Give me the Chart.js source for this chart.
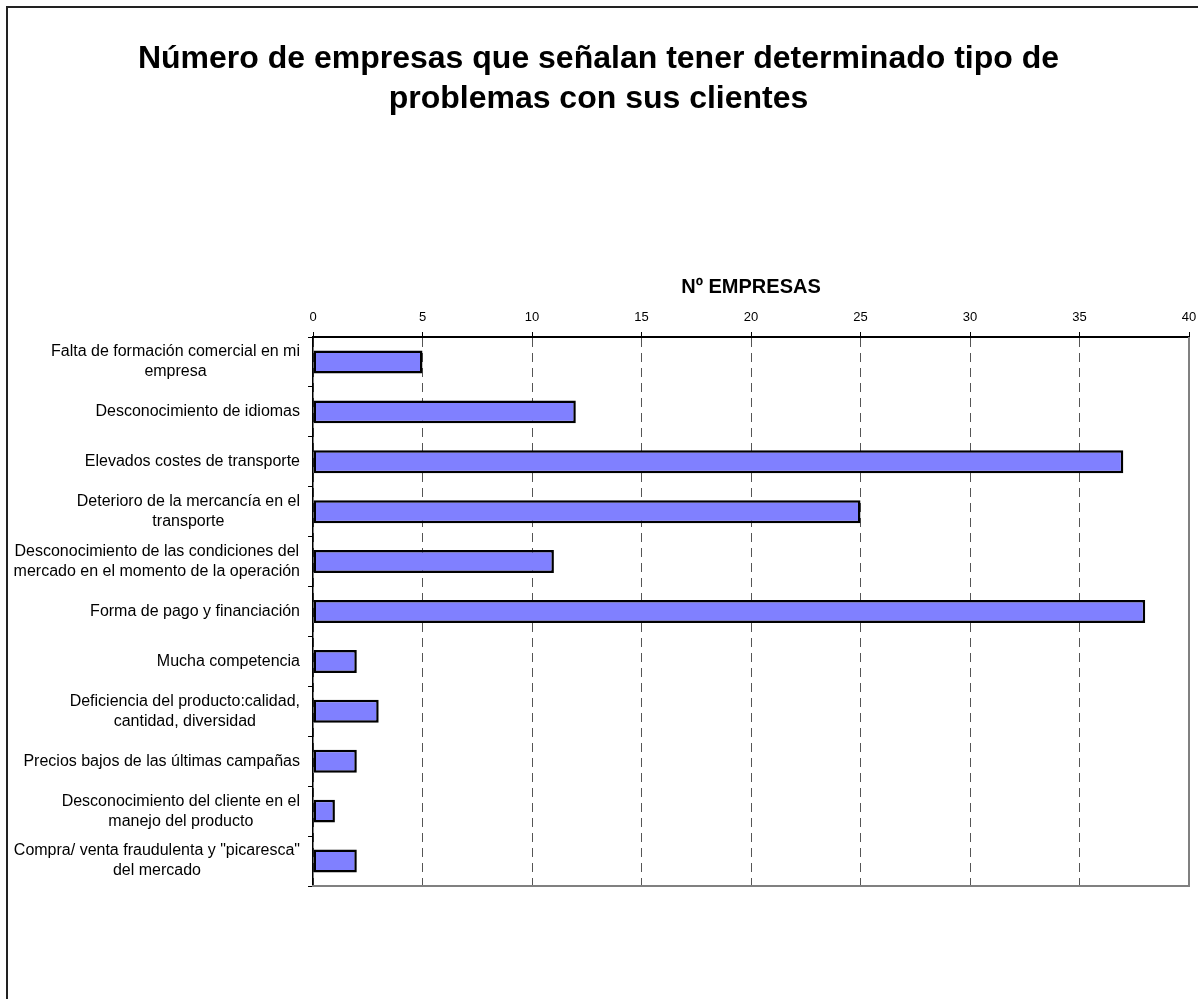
<!DOCTYPE html>
<html>
<head>
<meta charset="utf-8">
<script src="https://cdn.jsdelivr.net/npm/chart.js@4"></script>
<style>
  html, body { margin: 0; padding: 0; background: #fff; }
  #wrap { position: absolute; left: 0; top: 0; width: 1198px; height: 999px; }
</style>
</head>
<body>
<div id="wrap"><canvas id="myChart" width="1198" height="999"></canvas></div>
<script>
const FONT = "'Liberation Sans', Arial, sans-serif";

const chartTitle = ['Número de empresas que señalan tener determinado tipo de', 'problemas con sus clientes'];
const axisTitle = 'Nº EMPRESAS';

const categories = [
    ['Falta de formación comercial en mi', 'empresa'],
    ['Desconocimiento de idiomas'],
    ['Elevados costes de transporte'],
    ['Deterioro de la mercancía en el', 'transporte'],
    ['Desconocimiento de las condiciones del', 'mercado en el momento de la operación'],
    ['Forma de pago y financiación'],
    ['Mucha competencia'],
    ['Deficiencia del producto:calidad,', 'cantidad, diversidad'],
    ['Precios bajos de las últimas campañas'],
    ['Desconocimiento del cliente en el', 'manejo del producto'],
    ['Compra/ venta fraudulenta y "picaresca"', 'del mercado']
];
const empresas = [5, 12, 37, 25, 11, 38, 2, 3, 2, 1, 2];

const axisMin = 0;
const axisMax = 40;
const axisStep = 5;

// frame round the chart, right/bottom border of the plot and category labels
const extras = {
    id: 'extras',
    beforeDraw(chart) {
        const ctx = chart.ctx;
        ctx.save();
        ctx.strokeStyle = '#222';
        ctx.lineWidth = 2;
        ctx.beginPath();
        ctx.moveTo(7, 1005);
        ctx.lineTo(7, 7);
        ctx.lineTo(1205, 7);
        ctx.stroke();
        ctx.restore();
    },
    afterDraw(chart) {
        const ctx = chart.ctx;
        const a = chart.chartArea;
        ctx.save();
        ctx.strokeStyle = '#808080';
        ctx.lineWidth = 2;
        ctx.beginPath();
        ctx.moveTo(a.right, a.top);
        ctx.lineTo(a.right, a.bottom);
        ctx.lineTo(a.left - 1, a.bottom);
        ctx.stroke();

        const yScale = chart.scales.y;
        ctx.fillStyle = '#000';
        ctx.font = '16px ' + FONT;
        ctx.textBaseline = 'middle';
        ctx.textAlign = 'center';
        const xr = 300;
        const lh = 20;
        categories.forEach(function (lines, i) {
            const y = yScale.getPixelForValue(i);
            let widest = 0;
            lines.forEach(function (l) { widest = Math.max(widest, ctx.measureText(l).width); });
            const cx = xr - widest / 2;
            lines.forEach(function (l, j) {
                ctx.fillText(l, cx, y + (j - (lines.length - 1) / 2) * lh);
            });
        });
        ctx.restore();
    }
};

const ctx = document.getElementById('myChart').getContext('2d');
new Chart(ctx, {
    type: 'bar',
    data: {
        labels: categories,
        datasets: [{
            label: axisTitle,
            data: empresas,
            backgroundColor: '#8080FF',
            borderColor: '#000',
            borderWidth: 2.5,
            borderSkipped: false,
            barPercentage: 0.46,
            categoryPercentage: 1
        }]
    },
    options: {
        indexAxis: 'y',
        responsive: false,
        animation: false,
        layout: { padding: { left: 8, right: 9, top: 0, bottom: 113 } },
        plugins: {
            legend: { display: false },
            tooltip: { enabled: false },
            title: {
                display: true,
                text: chartTitle,
                color: '#000',
                font: { family: FONT, size: 32, weight: 'bold', lineHeight: 1.25 },
                padding: { top: 39, bottom: 154 }
            }
        },
        scales: {
            x: {
                position: 'top',
                min: axisMin,
                max: axisMax,
                afterFit: function (s) {
                    s.height = 64;
                    s.paddingLeft = 0;
                    s.paddingRight = 0;
                },
                ticks: {
                    stepSize: axisStep,
                    color: '#000',
                    padding: 7,
                    font: { family: FONT, size: 13 }
                },
                grid: {
                    color: '#555',
                    lineWidth: 1,
                    tickLength: 5,
                    tickColor: '#000',
                    tickBorderDash: []
                },
                border: { display: true, color: '#000', width: 2, dash: [9, 6] },
                title: {
                    display: true,
                    text: axisTitle,
                    color: '#000',
                    font: { family: FONT, size: 20, weight: 'bold', lineHeight: 1.2 },
                    padding: { top: 2, bottom: 0 }
                }
            },
            y: {
                afterFit: function (s) { s.width = 305; },
                ticks: { display: false },
                grid: {
                    drawOnChartArea: false,
                    offset: true,
                    tickLength: 5,
                    tickColor: '#000'
                },
                border: { display: true, color: '#000', width: 1.5 }
            }
        }
    },
    plugins: [extras]
});
</script>
</body>
</html>
